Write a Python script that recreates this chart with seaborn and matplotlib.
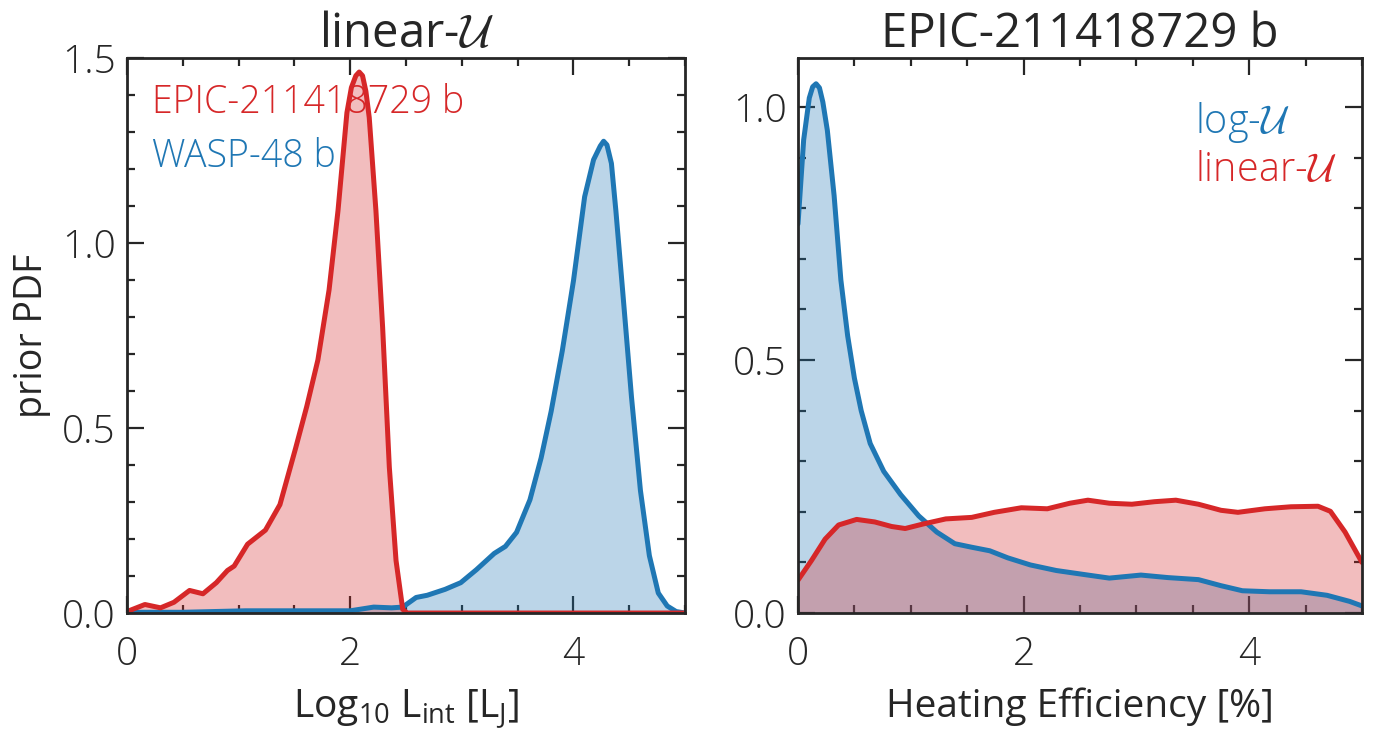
import numpy as np
import pandas as pd
import matplotlib
matplotlib.use("Agg")
import matplotlib.pyplot as plt
import seaborn as sns
from matplotlib.ticker import MultipleLocator, FormatStrFormatter

# ---- data ----
epic_lint_x = [0.0, 0.16, 0.30, 0.42, 0.56, 0.68, 0.80, 0.90, 0.96, 1.08, 1.24, 1.37, 1.51, 1.61,
               1.71, 1.81, 1.89, 1.97, 2.01, 2.05, 2.08, 2.11, 2.14, 2.17, 2.23, 2.29, 2.35, 2.41, 2.47, 2.51,
               3.0, 4.0, 5.0]
epic_lint_y = [0.004, 0.023, 0.014, 0.029, 0.061, 0.052, 0.082, 0.115, 0.127, 0.186, 0.224, 0.293, 0.445, 0.558,
               0.684, 0.873, 1.087, 1.352, 1.420, 1.452, 1.462, 1.452, 1.410, 1.339, 1.087, 0.772, 0.394, 0.142,
               0.010, 0.0, 0.0, 0.0, 0.0]

wasp_lint_x = [0.0, 0.5, 1.06, 1.61, 2.0, 2.21, 2.37, 2.47, 2.59, 2.69, 2.85, 2.99, 3.13, 3.29, 3.39, 3.49,
               3.61, 3.71, 3.80, 3.90, 4.00, 4.10, 4.18, 4.24, 4.27, 4.30, 4.34, 4.38, 4.44, 4.52, 4.60, 4.68,
               4.76, 4.84, 4.92, 5.0]
wasp_lint_y = [0.002, 0.002, 0.006, 0.006, 0.006, 0.016, 0.014, 0.016, 0.042, 0.048, 0.064, 0.082, 0.117, 0.161,
               0.180, 0.218, 0.306, 0.419, 0.545, 0.709, 0.898, 1.125, 1.225, 1.262, 1.275, 1.265, 1.215,
               1.087, 0.873, 0.583, 0.331, 0.155, 0.054, 0.019, 0.004, 0.0]

log_heat_x = [0.0, 0.05, 0.10, 0.13, 0.16, 0.19, 0.22, 0.26, 0.32, 0.38, 0.44, 0.50, 0.56, 0.64, 0.76, 0.91,
              1.07, 1.23, 1.39, 1.54, 1.70, 1.86, 2.06, 2.29, 2.57, 2.76, 3.04, 3.28, 3.55, 3.75, 3.94, 4.18,
              4.46, 4.69, 4.89, 5.0]
log_heat_y = [0.769, 0.935, 1.018, 1.040, 1.046, 1.038, 1.010, 0.954, 0.825, 0.658, 0.548, 0.464, 0.400, 0.335,
              0.280, 0.234, 0.192, 0.160, 0.137, 0.130, 0.123, 0.109, 0.095, 0.084, 0.075, 0.069, 0.075, 0.070,
              0.066, 0.054, 0.044, 0.042, 0.042, 0.035, 0.023, 0.014]

lin_heat_x = [0.0, 0.12, 0.24, 0.36, 0.52, 0.68, 0.83, 0.95, 1.11, 1.31, 1.54, 1.74, 1.98, 2.21, 2.41, 2.57,
              2.76, 2.96, 3.16, 3.35, 3.55, 3.75, 3.90, 4.14, 4.37, 4.61, 4.72, 4.85, 5.0]
lin_heat_y = [0.065, 0.104, 0.146, 0.174, 0.185, 0.180, 0.171, 0.167, 0.176, 0.186, 0.189, 0.199, 0.208, 0.206,
              0.217, 0.223, 0.217, 0.215, 0.220, 0.223, 0.215, 0.203, 0.199, 0.206, 0.210, 0.211, 0.201,
              0.160, 0.100]

RED = "#d62728"
BLUE = "#1f77b4"

sns.set_style("ticks")
plt.rcParams["font.family"] = ["Open Sans", "DejaVu Sans"]
plt.rcParams["font.weight"] = "light"
plt.rcParams["mathtext.fontset"] = "cm"
plt.rcParams["mathtext.default"] = "regular"

fig = plt.figure(figsize=(13.84, 7.31), dpi=100)
ax1 = fig.add_axes([0.0918, 0.1614, 0.4032, 0.7593])
ax2 = fig.add_axes([0.5766, 0.1614, 0.4075, 0.7593])

def draw(ax, x, y, color):
    df = pd.DataFrame({"x": x, "y": y})
    ax.fill_between(df["x"], 0, df["y"], color=color, alpha=0.3, lw=0)
    sns.lineplot(data=df, x="x", y="y", ax=ax, color=color, lw=3.6, sort=False)
    ax.lines[-1].set_solid_joinstyle("round")

draw(ax1, wasp_lint_x, wasp_lint_y, BLUE)
draw(ax1, epic_lint_x, epic_lint_y, RED)
draw(ax2, log_heat_x, log_heat_y, BLUE)
draw(ax2, lin_heat_x, lin_heat_y, RED)

ax1.set_xlim(0, 5)
ax1.set_ylim(0, 1.5)
ax2.set_xlim(0, 5)
ax2.set_ylim(0, 1.097)

for ax in (ax1, ax2):
    ax.xaxis.set_major_locator(MultipleLocator(2))
    ax.xaxis.set_minor_locator(MultipleLocator(0.5))
    ax.yaxis.set_major_locator(MultipleLocator(0.5))
    ax.yaxis.set_minor_locator(MultipleLocator(0.1))
    ax.tick_params(which="both", direction="in", top=True, right=True, labelsize=28, width=1.6)
    ax.tick_params(which="major", length=12)
    ax.tick_params(which="minor", length=6)
    ax.tick_params(axis="x", which="major", pad=16)
    ax.tick_params(axis="y", which="major", pad=8)
    for s in ax.spines.values():
        s.set_linewidth(2)
        s.set_visible(True)
    ax.set_ylabel("")
    ax.set_xlabel("")
    ax.yaxis.set_major_formatter(FormatStrFormatter("%.1f"))

ax1.set_title(r"linear-$\mathcal{U}$", fontsize=34, pad=4)
ax2.set_title("EPIC-211418729 b", fontsize=34, pad=4)
ax1.set_ylabel("prior PDF", fontsize=27, labelpad=8)
ax1.set_xlabel(r"Log$_{10}$ L$_{int}$ [L$_{J}$]", fontsize=28, labelpad=10)
ax2.set_xlabel("Heating Efficiency [%]", fontsize=28, labelpad=10)

ax1.text(0.0443, 0.901, "EPIC-211418729 b", color=RED, fontsize=27, transform=ax1.transAxes, va="baseline")
ax1.text(0.0443, 0.803, "WASP-48 b", color=BLUE, fontsize=27, transform=ax1.transAxes, va="baseline")
ax2.text(0.704, 0.865, r"log-$\mathcal{U}$", color=BLUE, fontsize=28.5, transform=ax2.transAxes, va="baseline")
ax2.text(0.704, 0.779, r"linear-$\mathcal{U}$", color=RED, fontsize=28.5, transform=ax2.transAxes, va="baseline")

fig.savefig("out.png", dpi=100)
